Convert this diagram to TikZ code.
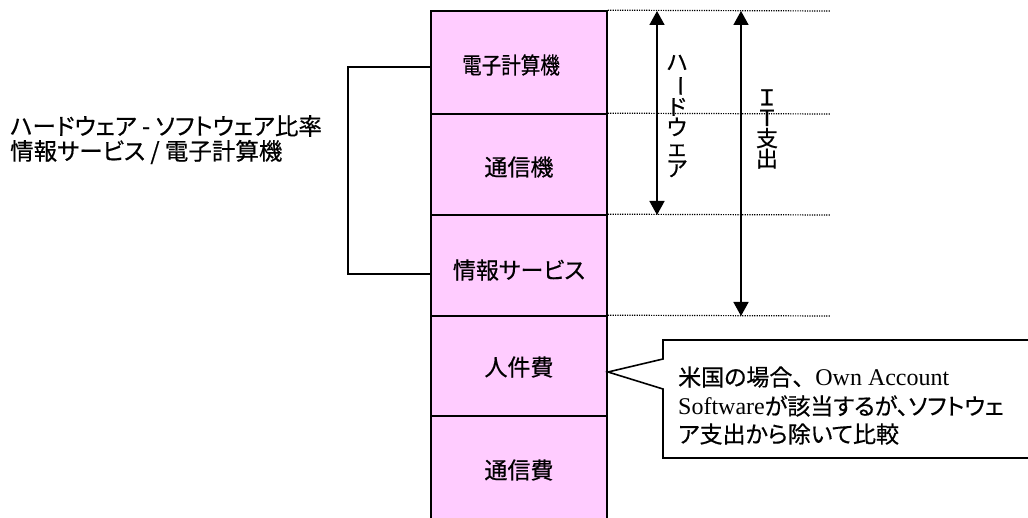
\documentclass[tikz,border=0pt]{standalone}
\usepackage{fontspec}
\setmainfont{Liberation Serif}
\newfontfamily\jp{Noto Sans CJK JP}[FakeBold=0.5]
\newfontfamily\jpp{Noto Sans CJK JP}[RawFeature=+palt,FakeBold=0.5]
\usetikzlibrary{arrows.meta}
\definecolor{boxpink}{HTML}{FFCCFF}
\tikzset{
  cell/.style={draw=black, line width=1.6pt, fill=boxpink, minimum width=176pt, inner sep=0pt},
  celltext/.style={inner sep=0pt, font=\jpp\fontsize{23}{26}\selectfont},
  guide/.style={line width=1.2pt, dash pattern=on 1.2pt off 1.2pt},
  dimarrow/.style={line width=1.6pt, {Triangle[width=15pt,length=14pt]}-{Triangle[width=15pt,length=14pt]}},
  bracket/.style={line width=1.6pt},
  vtext/.style={align=center, inner sep=0pt, font=\jp\fontsize{22}{20.5}\selectfont},
  note/.style={anchor=west, inner sep=0pt, font=\fontsize{24}{28}\selectfont},
  lefttext/.style={anchor=west, inner sep=0pt, font=\jpp\fontsize{23.5}{26}\selectfont},
}
\begin{document}
\begin{tikzpicture}[x=1pt,y=-1pt]
\useasboundingbox (0,0) rectangle (1028,518);
% boxes
\node[cell, minimum height=103pt] (b1) at (519,62.5) {};
\node[cell, minimum height=101pt] (b2) at (519,164.5) {};
\node[cell, minimum height=101pt] (b3) at (519,265.5) {};
\node[cell, minimum height=100pt] (b4) at (519,366) {};
\node[cell, minimum height=114pt] (b5) at (519,473) {};
\node[celltext] (t1) at (511,65) {\scalebox{0.85}[1]{電子計算機}};
\node[celltext] (t2) at (519,167) {通信機};
\node[celltext] (t3) at (519,270) {情報サービス};
\node[celltext] (t4) at (519,367) {人件費};
\node[celltext] (t5) at (519,470) {通信費};
% dotted guides
\coordinate (d1) at (830,11);
\coordinate (d2) at (830,114);
\coordinate (d3) at (830,215);
\coordinate (d4) at (830,316);
\draw[guide] (b1.north east) -- (d1);
\draw[guide] (b2.north east) -- (d2);
\draw[guide] (b3.north east) -- (d3);
\draw[guide] (b4.north east) -- (d4);
% dimension arrows
\coordinate (h1) at (657,11);
\coordinate (h2) at (657,215);
\coordinate (i1) at (741,11);
\coordinate (i2) at (741,316);
\draw[dimarrow] (h1) -- (h2);
\draw[dimarrow] (i1) -- (i2);
\node[vtext] (hw) at (677,116) {ハ\\\rotatebox[origin=c]{-90}{ー}\\ド\\ウ\\ェ\\ア};
\node[vtext] (it) at (767,129) {Ｉ\\Ｔ\\支\\出};
% bracket
\coordinate (k1) at (431,67);
\coordinate (k2) at (431,274);
\coordinate (k0) at (348,67);
\coordinate (k3) at (348,274);
\draw[bracket] (k1) -- (k0) -- (k3) -- (k2);
\node[lefttext] (l1) at (10,126) {ハードウェア - ソフトウェア比率};
\node[lefttext] (l2) at (10,152) {情報サービス / 電子計算機};
% callout
\coordinate (tip) at (608,372);
\draw[line width=1.6pt, fill=white] (663,340) -- (1045,340) -- (1045,458) -- (663,458) -- (663,389) -- (tip) -- (663,359) -- cycle;
\node[note] (n1) at (678,377) {{\jpp\fontsize{23}{28}\selectfont 米国の場合}{\jp\fontsize{23}{28}\selectfont 、}Own Account};
\node[note] (n2) at (678,406) {Software{\jpp\fontsize{23}{28}\selectfont が該当するが、ソフトウェ}};
\node[note] (n3) at (678,434) {{\jpp\fontsize{23}{28}\selectfont ア支出から除いて比較}};
\end{tikzpicture}
\end{document}
